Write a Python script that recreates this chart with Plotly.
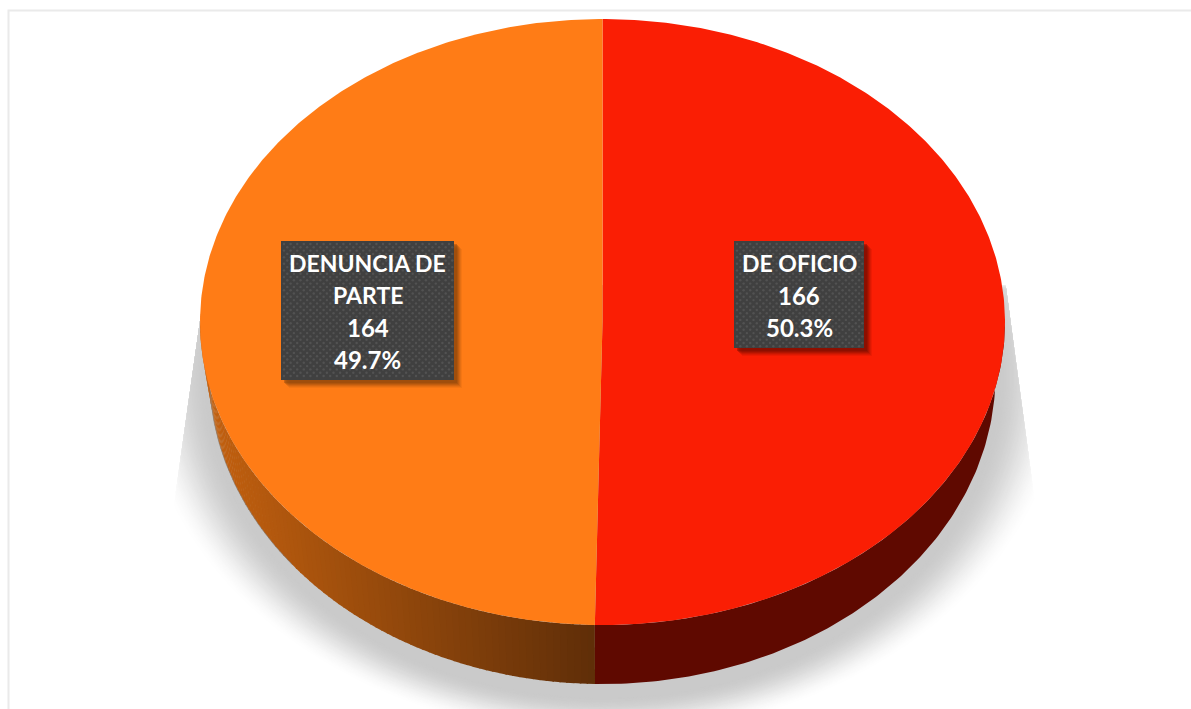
import numpy as np
import plotly.graph_objects as go

# ---- data ----
categories = ["DE OFICIO", "DENUNCIA DE PARTE"]
wrapped_labels = [["DE OFICIO"], ["DENUNCIA DE", "PARTE"]]
values = [166, 164]
top_colors = ["#FA1E04", "#FF7C16"]

# ---- geometry of the tilted pie (pixels) ----
W, H = 1191, 709
CX, CY, RX, RY = 602.5, 322.0, 402.5, 303.0      # top face
BCY, BRX, BRY = 375.0, 393.0, 309.0              # lower rim (narrower: perspective)
BOXES = [(734, 241, 864, 348), (281, 241, 454, 380)]

def hexrgb(h):
    return np.array([int(h[i:i + 2], 16) for i in (1, 3, 5)], float)

def mix(a, b, t):
    c = hexrgb(a) * (1 - t) + hexrgb(b) * t
    return "rgb(%d,%d,%d)" % tuple(np.round(c))

def rim(theta):
    return CX + RX * np.sin(theta), CY - RY * np.cos(theta)

def low_rim(theta):
    return CX + BRX * np.sin(theta), BCY - BRY * np.cos(theta)

def poly(x, y, color, opacity=None):
    tr = go.Scatter(x=list(x), y=list(y), mode="lines", fill="toself", fillcolor=color,
                    line=dict(width=0), hoverinfo="skip", showlegend=False)
    if opacity is not None:
        tr.opacity = opacity
    return tr

fig = go.Figure()

# soft ground shadow, cut by two slanted edges as in the original
def left_limit(y):
    return 209 - (y - 257) * 33 / 233

def right_limit(y):
    return 1005 + (y - 280) * 27 / 200

N_LAYERS = 44
for i in range(N_LAYERS):
    t = i / (N_LAYERS - 1)
    fade = t * t * (3 - 2 * t)
    rx = 466 - 71 * t
    ry = 366 - 46 * t
    cy = 372 + 6 * t
    a = np.linspace(-np.pi * 0.62, np.pi * 0.62, 240) + np.pi
    sx = CX + rx * np.sin(a)
    sy = cy - ry * np.cos(a)
    keep = sy >= 285
    sx, sy = sx[keep], sy[keep]
    sx = np.clip(sx, left_limit(sy), right_limit(sy))
    fig.add_trace(poly(sx, sy, mix("#FFFFFF", "#CACACA", fade)))

# slice angles come from the values
fractions = np.array(values, float) / sum(values)
edges = np.concatenate([[0], np.cumsum(fractions)]) * 2 * np.pi

# side wall: orange part with a left-to-right gradient
seam = edges[1]
wall_a = np.linspace(seam, 1.5 * np.pi, 90)
for a0, a1 in zip(wall_a[:-1], wall_a[1:]):
    aa = np.linspace(a0, a1 + 0.004, 4)
    x0, y0 = rim(aa)
    x1, y1 = low_rim(aa)
    t = (x0.mean() - CX + RX) / (rim(seam)[0] - CX + RX)
    fig.add_trace(poly(np.r_[x0, x1[::-1]], np.r_[y0, y1[::-1]], mix("#C4610F", "#5F2E08", t)))

# side wall: red part
aa = np.linspace(np.pi / 2, seam, 120)
x0, y0 = rim(aa)
x1, y1 = low_rim(aa)
fig.add_trace(poly(np.r_[x0, x1[::-1]], np.r_[y0, y1[::-1]], "#5F0900"))

# thin grey hairline on the left lower rim
aa = np.linspace(1.29 * np.pi, 1.5 * np.pi, 80)
lx, ly = low_rim(aa)
fig.add_trace(go.Scatter(x=lx, y=ly, mode="lines", hoverinfo="skip", showlegend=False,
                         opacity=0.55, line=dict(color="#808080", width=1)))

# top faces
for k in range(len(values)):
    aa = np.linspace(edges[k], edges[k + 1], 361)
    x, y = rim(aa)
    fig.add_trace(poly(np.r_[CX, x, CX], np.r_[CY, y, CY], top_colors[k]))

# label boxes
for (x0, y0, x1, y1), under in zip(BOXES, ["#7A0E00", "#8F480B"]):
    for off, op in ((8, 0.1), (7, 0.14), (6, 0.2), (5, 0.28), (4, 0.36), (3, 0.45)):
        fig.add_trace(poly([x0 + off, x1 + off, x1 + off, x0 + off, x0 + off],
                           [y0 + off, y0 + off, y1 + off, y1 + off, y0 + off], under, op))
    fig.add_trace(poly([x0, x1, x1, x0, x0], [y0, y0, y1, y1, y0], "#404040"))
    gx, gy = [], []
    rows = np.arange(y0 + 3, y1 - 1, 3.3)
    for r, yy in enumerate(rows):
        for xx in np.arange(x0 + 3 + (3.3 if r % 2 else 0), x1 - 1, 6.6):
            gx.append(xx)
            gy.append(yy)
    fig.add_trace(go.Scatter(x=gx, y=gy, mode="markers", hoverinfo="skip", showlegend=False,
                             marker=dict(size=2.4, color="#525252", line=dict(width=0))))

# label text is built from the values
for (x0, y0, x1, y1), lab, v, f in zip(BOXES, wrapped_labels, values, fractions):
    lines = lab + [str(v), "%.1f%%" % (f * 100)]
    for j, line in enumerate(lines):
        size = 23 if j < len(lab) else 24
        fig.add_annotation(x=(x0 + x1) / 2, y=y0 + 22 + j * 32.2, xref="x", yref="y",
                           text="<b>%s</b>" % line, showarrow=False, align="center",
                           font=dict(family="Lato", size=size, color="#FFFFFF"))

fig.add_shape(type="rect", xref="x", yref="y", x0=8.5, y0=10.5, x1=1210, y1=760,
              line=dict(color="#EAEAEA", width=2), fillcolor="rgba(0,0,0,0)", layer="above")

fig.update_layout(
    width=W, height=H, margin=dict(l=0, r=0, t=0, b=0),
    paper_bgcolor="#FFFFFF", plot_bgcolor="#FFFFFF", showlegend=False,
    xaxis=dict(range=[0, W], visible=False, fixedrange=True),
    yaxis=dict(range=[H, 0], visible=False, fixedrange=True),
    hovermode=False,
)
fig.write_html("out.html", config={"displayModeBar": False},
               post_script="document.body.style.margin='0';document.body.style.overflow='hidden';")
